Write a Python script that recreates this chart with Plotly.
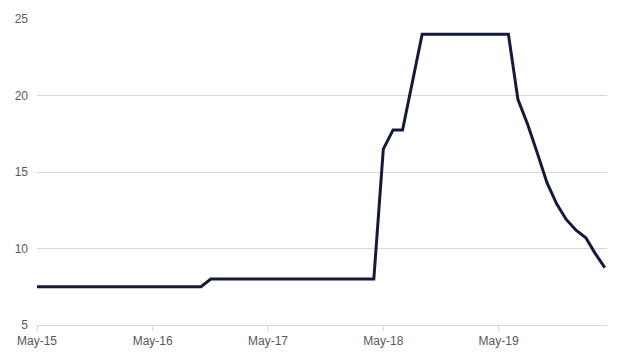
import plotly.graph_objects as go
import pandas as pd

# Monthly series, May-2015 .. Apr-2020
start_month = "2015-05-01"
end_month = "2020-04-01"
# value changes (month -> value); months between hold previous value
values = (
    [7.5] * 18          # May-15 .. Oct-16
    + [8.0] * 17        # Nov-16 .. Mar-18
    + [8.0]             # Apr-18
    + [16.5, 17.75, 17.75, 20.8]  # May-18 .. Aug-18
    + [24.0] * 10       # Sep-18 .. Jun-19
    + [19.75, 18.1, 16.2, 14.3, 12.9, 11.9, 11.2, 10.7, 9.7, 8.75]  # Jul-19 .. Apr-20
)
dates = pd.date_range(start_month, end_month, freq="MS")
assert len(dates) == len(values)

y_ticks = [5, 10, 15, 20, 25]

fig = go.Figure()
fig.add_trace(go.Scatter(
    x=dates, y=values, mode="lines",
    line=dict(color="#141a3a", width=3),
    hoverinfo="skip",
))

font_color = "#595959"
fig.update_layout(
    width=624, height=360,
    margin=dict(l=37, r=17, t=18, b=34),
    paper_bgcolor="white", plot_bgcolor="white",
    showlegend=False,
    font=dict(family="Liberation Sans, Arial, sans-serif", size=12, color=font_color),
    xaxis=dict(
        type="date",
        range=[start_month, "2020-04-08"],
        tick0=start_month, dtick="M12", tickformat="%b-%y",
        showgrid=False, showline=True, linecolor="#d9d9d9", linewidth=1,
        ticks="outside", ticklen=5, tickcolor="#d9d9d9",
        tickfont=dict(size=12, color=font_color),
        zeroline=False,
    ),
    yaxis=dict(
        range=[5, 25], tickvals=y_ticks,
        showgrid=True, gridcolor="#d9d9d9", gridwidth=1,
        showline=False, zeroline=False,
        ticks="", ticklabelstandoff=8,
        tickfont=dict(size=12, color=font_color),
    ),
)

fig.write_html("out.html")
